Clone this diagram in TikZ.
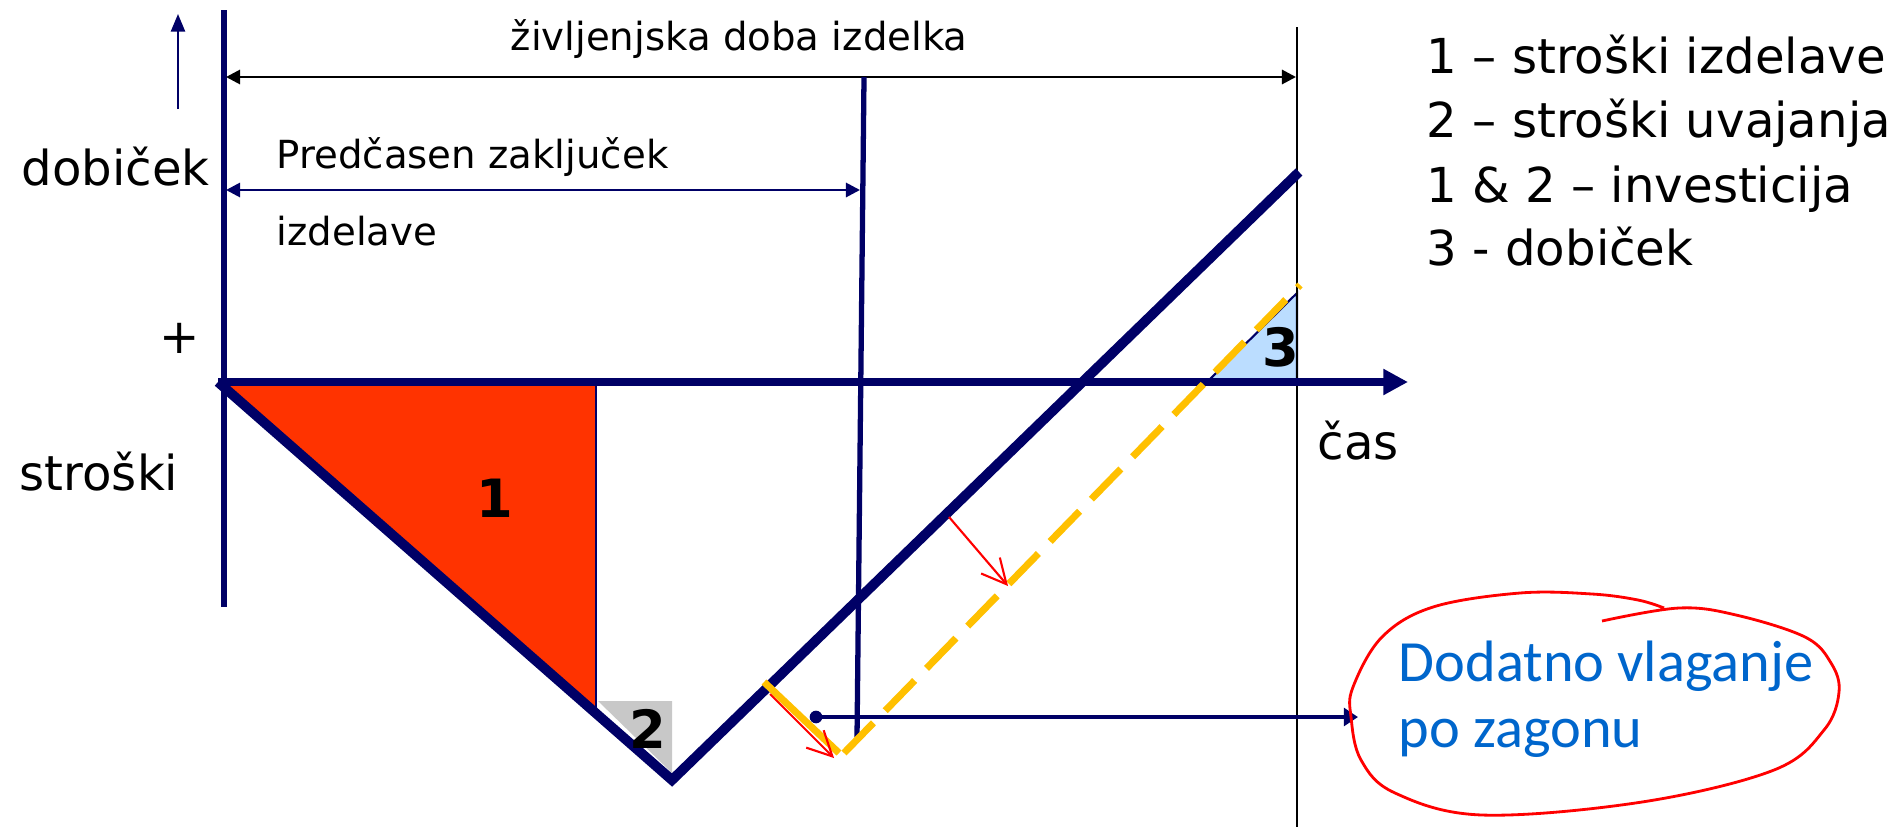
\documentclass[tikz,border=0pt]{standalone}
\usepackage{fontspec}
\setmainfont{DejaVu Sans}
\newfontfamily\notefont{Carlito}
\usetikzlibrary{arrows.meta}
\definecolor{chartnavy}{RGB}{0,0,102}
\definecolor{costred}{RGB}{255,51,0}
\definecolor{shiftyellow}{RGB}{255,192,0}
\definecolor{gainblue}{RGB}{187,221,255}
\definecolor{introgray}{RGB}{200,200,200}
\definecolor{noteblue}{RGB}{0,102,204}

\begin{document}
\begin{tikzpicture}[x=0.01cm, y=-0.01cm,
    big/.style={font=\fontsize{13.7}{16}\selectfont, inner sep=0pt},
    small/.style={font=\fontsize{11}{13}\selectfont, inner sep=0pt},
    areanum/.style={font=\bfseries\fontsize{15}{17}\selectfont, inner sep=0pt},
    redpen/.style={red, line width=0.6pt, -{Straight Barb[length=7pt,width=7pt]}}]
    \useasboundingbox (0,0) rectangle (1895,827);
    \coordinate (O) at (218,382);
    \coordinate (low) at (672,780);
    \coordinate (high) at (1299,172);
    \coordinate (start) at (816,717);
    \coordinate (noteW) at (1358,717);

    \fill[costred] (O) -- (596,382) -- (596,713) -- cycle;
    \fill[introgray] (598,701) -- (672,701) -- (672,773) -- cycle;
    \filldraw[fill=gainblue, draw=chartnavy, line width=0.6pt] (1209,380) -- (1297,380) -- (1297,293) -- cycle;
    \draw[chartnavy, line width=0.6pt] (596,382) -- (596,713);

    \draw[chartnavy, line width=1.8pt] (224,10) -- (224,607);
    \draw[chartnavy, line width=0.6pt, -{Triangle[length=5pt,width=4pt]}] (178,109) -- (178,14);
    \draw[black, line width=0.5pt] (1297,27) -- (1297,827);
    \draw[black, line width=0.8pt, {Triangle[length=4pt,width=4pt]}-{Triangle[length=4pt,width=4pt]}] (226,77) -- (1296,77);
    \draw[chartnavy, line width=0.8pt, {Triangle[length=4pt,width=4pt]}-{Triangle[length=4pt,width=4pt]}] (226,190) -- (860,190);
    \draw[chartnavy, line width=1.5pt] (864,77) -- (857,737);
    \draw[chartnavy, line width=2.2pt, -{Triangle[length=7pt,width=7pt]}] (O) -- (1408,382);
    \draw[chartnavy, line width=2.8pt, line join=miter] (O) -- (low) -- (high);

    \draw[shiftyellow, line width=2pt] (764,682) -- (839,753);
    \draw[shiftyellow, line width=2pt, dash pattern=on 12pt off 4.8pt] (844,753) -- (1300,285);
    \draw[redpen] (949,517) -- (1008,586);
    \draw[redpen] (770,694) -- (834,758);

    \fill[chartnavy] (start) circle[radius=1.8pt];
    \draw[chartnavy, line width=1.3pt, -{Triangle[length=4pt,width=5pt]}] (start) -- (noteW);

    \node[small, anchor=base west] (life) at (510,50) {življenjska doba izdelka};
    \node[small, anchor=base west] (early) at (276,168) {Predčasen zaključek};
    \node[small, anchor=base west] (early2) at (276,245) {izdelave};
    \node[big, anchor=base west] (profit) at (21,185) {dobiček};
    \node[big] (plus) at (180,338) {+};
    \node[big, anchor=base west] (cost) at (19,490) {stroški};
    \node[big, anchor=base west] (time) at (1317,459) {čas};
    \node[areanum] (n1) at (495,498) {1};
    \node[areanum] (n2) at (648,729) {2};
    \node[areanum] (n3) at (1281,347) {3};

    \node[big, anchor=base west] (leg1) at (1426,73) {1 – stroški izdelave};
    \node[big, anchor=base west] (leg2) at (1426,137) {2 – stroški uvajanja};
    \node[big, anchor=base west] (leg3) at (1426,202) {1 \& 2 – investicija};
    \node[big, anchor=base west] (leg4) at (1426,265) {3 - dobiček};

    \node[anchor=base west, inner sep=0pt, align=left, text=noteblue,
          font=\notefont\fontsize{16.6}{18.5}\selectfont] (note) at (1398,747) {Dodatno vlaganje\\po zagonu};
    \draw[red, line width=0.8pt] plot[smooth, tension=0.6] coordinates {(1602,621) (1679,608) (1736,615) (1805,637) (1831,663) (1839,692) (1824,730) (1774,770) (1642,802) (1482,815) (1395,793) (1361,760) (1351,717) (1353,687) (1382,637) (1433,607) (1520,593) (1592,594) (1638,600) (1664,608)};
\end{tikzpicture}
\end{document}
